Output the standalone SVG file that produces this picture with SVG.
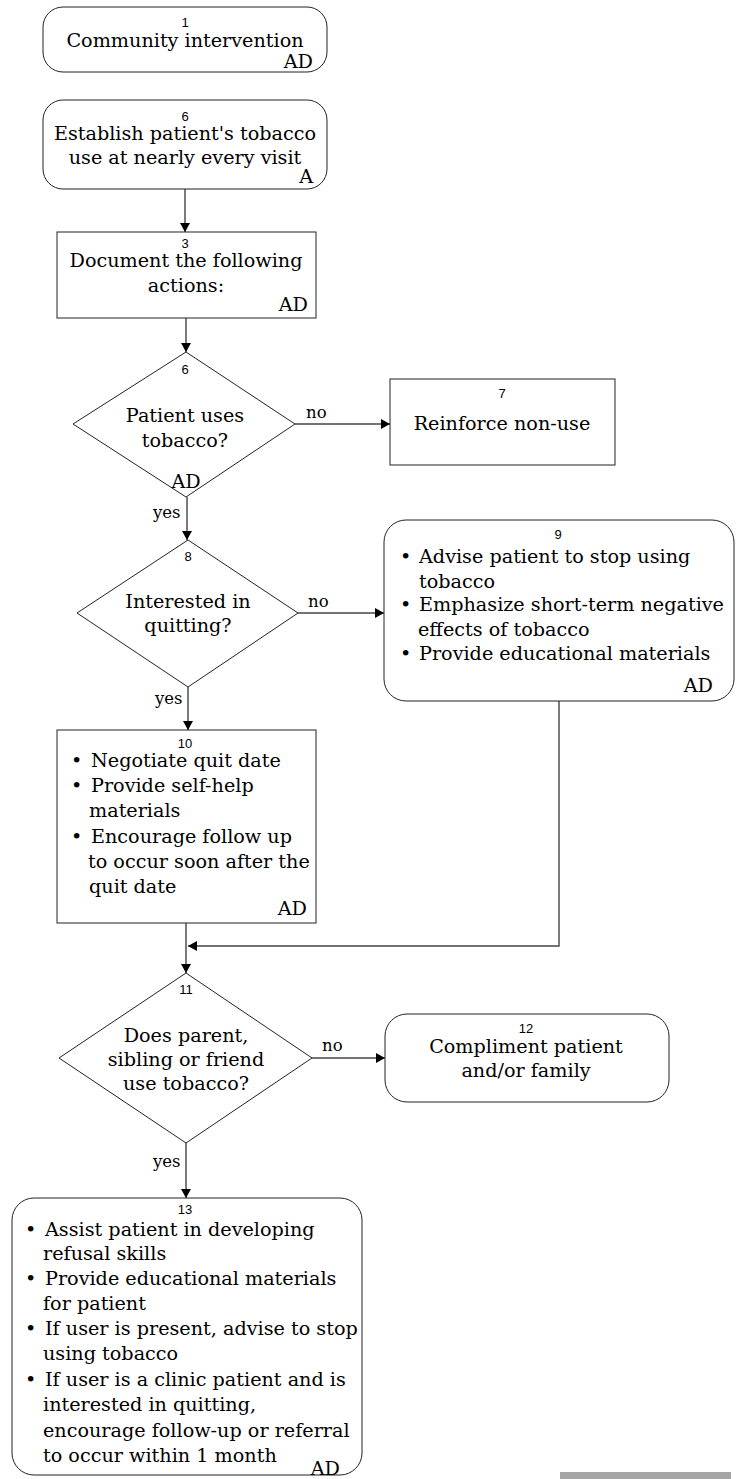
<svg xmlns="http://www.w3.org/2000/svg" width="743" height="1479" viewBox="0 0 743 1479">
<style>
.b{fill:#fff;stroke:#222;stroke-width:1}
.t{font-family:"DejaVu Serif","Liberation Serif",serif;font-size:19.2px;fill:#000}
.n{font-family:"Liberation Sans",Arial,sans-serif;font-size:13px;fill:#000}
.m{text-anchor:middle}
.e{text-anchor:end}
.c{fill:none;stroke:#444;stroke-width:1.4}
.l{font-family:"DejaVu Serif","Liberation Serif",serif;font-size:16.5px;fill:#000}
</style>
<defs>
<marker id="ah" markerUnits="userSpaceOnUse" markerWidth="9" markerHeight="10" refX="9" refY="5" orient="auto">
<path d="M0,0 L9,5 L0,10 z" fill="#000"/>
</marker>
</defs>
<rect x="0" y="0" width="743" height="1479" fill="#fff"/>
<g id="connectors">
<line class="c" x1="185" y1="189" x2="185" y2="232" marker-end="url(#ah)"/>
<line class="c" x1="186" y1="318" x2="186" y2="352" marker-end="url(#ah)"/>
<line class="c" x1="295" y1="424" x2="390" y2="424" marker-end="url(#ah)"/>
<line class="c" x1="187" y1="497" x2="187" y2="540" marker-end="url(#ah)"/>
<line class="c" x1="298" y1="613" x2="384" y2="613" marker-end="url(#ah)"/>
<line class="c" x1="188" y1="687" x2="188" y2="730" marker-end="url(#ah)"/>
<polyline class="c" points="559,701 559,946 188,946" marker-end="url(#ah)"/>
<line class="c" x1="186" y1="923" x2="186" y2="973" marker-end="url(#ah)"/>
<line class="c" x1="312" y1="1058" x2="385" y2="1058" marker-end="url(#ah)"/>
<line class="c" x1="186" y1="1143" x2="186" y2="1198" marker-end="url(#ah)"/>
<text class="l" x="306" y="418">no</text>
<text class="l" x="153" y="518">yes</text>
<text class="l" x="308" y="607">no</text>
<text class="l" x="155" y="704">yes</text>
<text class="l" x="322" y="1051">no</text>
<text class="l" x="153" y="1167">yes</text>
</g>
<g id="node1">
<rect class="b" x="43" y="7" width="284" height="65" rx="20"/>
<text class="n m" x="185" y="27">1</text>
<text class="t m" x="185" y="47">Community intervention</text>
<text class="t e" x="313" y="68">AD</text>
</g>
<g id="node6a">
<rect class="b" x="43" y="100" width="284" height="89" rx="20"/>
<text class="n m" x="185" y="121">6</text>
<text class="t m" x="185" y="140">Establish patient's tobacco</text>
<text class="t m" x="185" y="164">use at nearly every visit</text>
<text class="t e" x="313" y="183">A</text>
</g>
<g id="node3">
<rect class="b" x="57" y="232" width="259" height="86"/>
<text class="n m" x="185" y="248">3</text>
<text class="t m" x="186" y="267">Document the following</text>
<text class="t m" x="186" y="292">actions:</text>
<text class="t e" x="308" y="311">AD</text>
</g>
<g id="node6b">
<polygon class="b" points="186,352 295,424 186,497 73,424"/>
<text class="n m" x="185" y="374">6</text>
<text class="t m" x="185" y="422">Patient uses</text>
<text class="t m" x="185" y="447">tobacco?</text>
<text class="t m" x="186" y="488">AD</text>
</g>
<g id="node7">
<rect class="b" x="390" y="379" width="225" height="86"/>
<text class="n m" x="502" y="398">7</text>
<text class="t m" x="502" y="430">Reinforce non-use</text>
</g>
<g id="node8">
<polygon class="b" points="188,540 298,613 188,687 77,613"/>
<text class="n m" x="188" y="561">8</text>
<text class="t m" x="188" y="608">Interested in</text>
<text class="t m" x="188" y="632">quitting?</text>
</g>
<g id="node9">
<rect class="b" x="384" y="520" width="350" height="181" rx="22"/>
<text class="n m" x="558" y="539">9</text>
<text class="t" x="400" y="563">•</text>
<text class="t" x="419" y="563">Advise patient to stop using</text>
<text class="t" x="419" y="588">tobacco</text>
<text class="t" x="400" y="611">•</text>
<text class="t" x="419" y="611">Emphasize short-term negative</text>
<text class="t" x="418" y="636">effects of tobacco</text>
<text class="t" x="400" y="660">•</text>
<text class="t" x="419" y="660">Provide educational materials</text>
<text class="t e" x="713" y="692">AD</text>
</g>
<g id="node10">
<rect class="b" x="57" y="730" width="259" height="193"/>
<text class="n m" x="185" y="748">10</text>
<text class="t" x="71" y="767">•</text>
<text class="t" x="91" y="767">Negotiate quit date</text>
<text class="t" x="71" y="792">•</text>
<text class="t" x="91" y="792">Provide self-help</text>
<text class="t" x="89" y="817">materials</text>
<text class="t" x="71" y="843">•</text>
<text class="t" x="91" y="843">Encourage follow up</text>
<text class="t" x="88" y="868">to occur soon after the</text>
<text class="t" x="89" y="893">quit date</text>
<text class="t e" x="307" y="915">AD</text>
</g>
<g id="node11">
<polygon class="b" points="186,973 312,1058 186,1143 59,1058"/>
<text class="n m" x="186" y="994">11</text>
<text class="t m" x="186" y="1042">Does parent,</text>
<text class="t m" x="186" y="1066">sibling or friend</text>
<text class="t m" x="186" y="1090">use tobacco?</text>
</g>
<g id="node12">
<rect class="b" x="385" y="1014" width="284" height="88" rx="22"/>
<text class="n m" x="526" y="1033">12</text>
<text class="t m" x="526" y="1053">Compliment patient</text>
<text class="t m" x="526" y="1077">and/or family</text>
</g>
<g id="node13">
<rect class="b" x="12" y="1198" width="350" height="277" rx="22"/>
<text class="n m" x="185" y="1214">13</text>
<text class="t" x="25" y="1236">•</text>
<text class="t" x="45" y="1236">Assist patient in developing</text>
<text class="t" x="43" y="1260">refusal skills</text>
<text class="t" x="25" y="1285">•</text>
<text class="t" x="45" y="1285">Provide educational materials</text>
<text class="t" x="43" y="1310">for patient</text>
<text class="t" x="25" y="1335">•</text>
<text class="t" x="45" y="1335">If user is present, advise to stop</text>
<text class="t" x="43" y="1360">using tobacco</text>
<text class="t" x="25" y="1386">•</text>
<text class="t" x="45" y="1386">If user is a clinic patient and is</text>
<text class="t" x="43" y="1411">interested in quitting,</text>
<text class="t" x="43" y="1437">encourage follow-up or referral</text>
<text class="t" x="43" y="1462">to occur within 1 month</text>
<text class="t e" x="340" y="1475">AD</text>
</g>
<rect x="560" y="1472" width="171" height="7" fill="#a6a6a6"/>
</svg>
